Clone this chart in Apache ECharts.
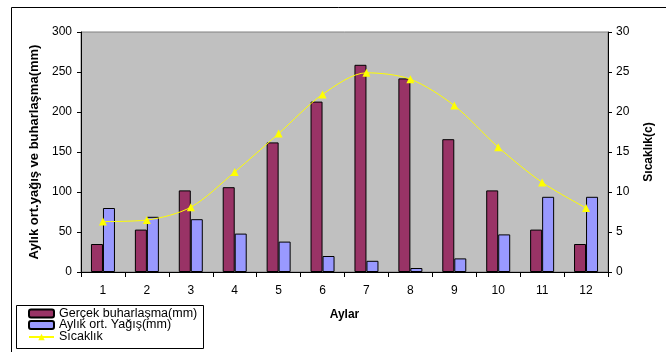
<!DOCTYPE html>
<html>
<head>
<meta charset="utf-8">
<script src="https://cdn.jsdelivr.net/npm/echarts@6/dist/echarts.min.js"></script>
<style>
  html, body { margin: 0; padding: 0; background: #ffffff; }
  #chart { width: 666px; height: 352px; }
</style>
</head>
<body>
<div id="chart"></div>
<script>
// Months of the year
const months = ['1', '2', '3', '4', '5', '6', '7', '8', '9', '10', '11', '12'];
// Actual evaporation (mm)
const evaporation = [35, 53, 102, 106, 162, 213, 259, 242, 166, 102, 53, 35];
// Monthly average precipitation (mm)
const precipitation = [80, 69, 66, 48, 38, 20, 14, 5, 17, 47, 94, 94];
// Monthly temperature (°C)
const temperature = [6.3, 6.5, 8.1, 12.5, 17.3, 22.2, 24.9, 24.1, 20.8, 15.6, 11.2, 8.0];

const seriesNames = ['Gerçek buharlaşma(mm)', 'Aylık ort. Yağış(mm)', 'Sıcaklık'];

const font = '"Liberation Sans", Arial, sans-serif';

// One legend row per series, stacked inside a shared framed box
const legendRowTops = [307, 318.5, 330.5];
const legends = seriesNames.map((name, i) => ({
  orient: 'vertical',
  left: 28,
  top: legendRowTops[i],
  padding: 0,
  itemWidth: 25,
  itemHeight: 8,
  itemGap: 0,
  textStyle: { fontFamily: font, fontSize: 12.5, color: '#000' },
  data: [name]
}));

const chart = echarts.init(document.getElementById('chart'), null, { renderer: 'canvas' });

chart.setOption({
  animation: false,
  backgroundColor: '#ffffff',
  textStyle: { fontFamily: font, color: '#000' },
  grid: {
    left: 81, right: 58, top: 32, bottom: 80,
    show: true,
    backgroundColor: '#c0c0c0',
    borderColor: '#808080',
    borderWidth: 1
  },
  legend: legends,
  xAxis: {
    type: 'category',
    data: months,
    name: 'Aylar',
    nameLocation: 'middle',
    nameGap: 37,
    nameTextStyle: { fontFamily: font, fontSize: 12, fontWeight: 'bold', color: '#000' },
    axisLine: { lineStyle: { color: '#000', width: 1 } },
    axisTick: { show: true, length: 5, lineStyle: { color: '#000' } },
    axisLabel: { fontFamily: font, fontSize: 12, color: '#000', margin: 13 },
    splitLine: { show: false }
  },
  yAxis: [
    {
      type: 'value',
      min: 0, max: 300, interval: 50,
      name: 'Aylık ort.yağış ve buharlaşma(mm)',
      nameLocation: 'middle',
      nameGap: 37,
      nameRotate: 90,
      nameTextStyle: { fontFamily: font, fontSize: 13, fontWeight: 'bold', color: '#000' },
      axisLine: { show: true, lineStyle: { color: '#000', width: 1 } },
      axisTick: { show: true, length: 4, lineStyle: { color: '#000' } },
      axisLabel: { fontFamily: font, fontSize: 12, color: '#000', margin: 9 },
      splitLine: { show: false }
    },
    {
      type: 'value',
      min: 0, max: 30, interval: 5,
      position: 'right',
      name: 'Sıcaklık(c)',
      nameLocation: 'middle',
      nameGap: 35,
      nameRotate: 90,
      nameTextStyle: { fontFamily: font, fontSize: 12, fontWeight: 'bold', color: '#000' },
      axisLine: { show: true, lineStyle: { color: '#000', width: 1 } },
      axisTick: { show: true, length: 4, lineStyle: { color: '#000' } },
      axisLabel: { fontFamily: font, fontSize: 12, color: '#000', margin: 8 },
      splitLine: { show: false }
    }
  ],
  series: [
    {
      name: seriesNames[0],
      type: 'bar',
      data: evaporation,
      barWidth: 12,
      barGap: '0%',
      itemStyle: { color: '#993366', borderColor: '#000', borderWidth: 1 }
    },
    {
      name: seriesNames[1],
      type: 'bar',
      data: precipitation,
      barWidth: 12,
      barGap: '0%',
      itemStyle: { color: '#9999ff', borderColor: '#000', borderWidth: 1 }
    },
    {
      name: seriesNames[2],
      type: 'line',
      yAxisIndex: 1,
      data: temperature,
      smooth: 0.3,
      symbol: 'triangle',
      symbolSize: 8,
      lineStyle: { color: '#ffff00', width: 1 },
      itemStyle: { color: '#ffff00' }
    }
  ],
  graphic: [
    { type: 'line', shape: { x1: 11.5, y1: 7.5, x2: 666, y2: 7.5 }, style: { stroke: '#000', lineWidth: 1 }, silent: true },
    { type: 'line', shape: { x1: 11.5, y1: 7.5, x2: 11.5, y2: 352 }, style: { stroke: '#000', lineWidth: 1 }, silent: true },
    // frame around the legend rows
    { type: 'rect', shape: { x: 16.5, y: 305.5, width: 187, height: 43 }, style: { fill: 'none', stroke: '#000', lineWidth: 1 }, silent: true, z: 10 }
  ]
});
</script>
</body>
</html>
